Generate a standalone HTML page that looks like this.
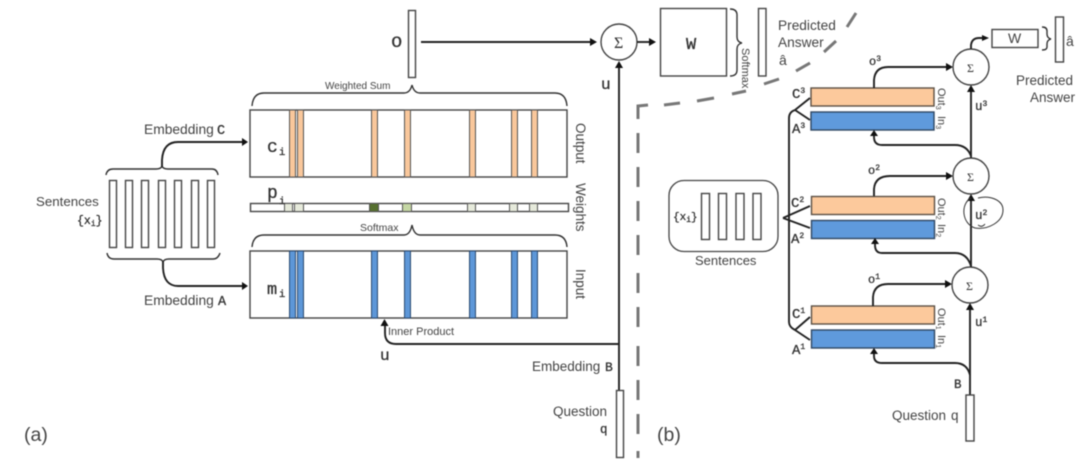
<!DOCTYPE html>
<html><head><meta charset="utf-8"><style>
html,body{margin:0;padding:0;background:#fff;width:1080px;height:470px;overflow:hidden}
svg{display:block;filter:blur(0.5px)}
text{font-family:"Liberation Sans",sans-serif;fill:#444}
.m{font-family:"Liberation Mono",monospace;fill:#333;stroke:#333;stroke-width:.3}
.s{font-family:"Liberation Serif",serif;fill:#333}
.b{fill:#fff;stroke:#444;stroke-width:1.4}
.l{fill:none;stroke:#222;stroke-width:1.9}
.br{fill:none;stroke:#333;stroke-width:1.4}
.o{fill:#f9c79b;stroke:#555;stroke-width:1}
.u{fill:#5d97d8;stroke:#2b4a70;stroke-width:1}
.ob{fill:#fcc99c;stroke:#5b5045;stroke-width:1.4}
.ub{fill:#5f9adc;stroke:#2f4763;stroke-width:1.4}
.ah{fill:#111;stroke:none}
.d{stroke:#777;stroke-width:3;fill:none}
</style></head><body>
<svg width="1080" height="470" viewBox="0 0 1080 470" xmlns="http://www.w3.org/2000/svg">
<!-- sentence bars left -->
<g class="b">
<rect x="109.500" y="180.500" width="7" height="67"/><rect x="125.500" y="180.500" width="7" height="67"/><rect x="141.500" y="180.500" width="7" height="67"/><rect x="158.500" y="180.500" width="7" height="67"/><rect x="174.500" y="180.500" width="7" height="67"/><rect x="191.500" y="180.500" width="7" height="67"/><rect x="207.500" y="180.500" width="7" height="67"/>
</g>
<path class="br" d="M106 175 Q107 169 113 169 L156 169 Q161 169 162 166 Q163 169 168 169 L212 169 Q217 169 218 175"/>
<path class="br" d="M107 253 Q108 259 114 259 L157 259 Q162 259 163 262 Q164 259 169 259 L213 259 Q218 259 220 253"/>
<path class="l" d="M162 167 L162 160 Q163 142 178 142 L244 142"/>
<path class="ah" d="M248 142 L242 138 L242 146Z"/>
<path class="l" d="M163 261 L163 268 Q164 286 178 286 L244 286"/>
<path class="ah" d="M248 286 L242 282 L242 290Z"/>
<text x="144" y="134" font-size="13.800">Embedding</text><text x="217" y="134" class="m" font-size="13.500">C</text>
<text x="144" y="305" font-size="13.800">Embedding</text><text x="218" y="305" class="m" font-size="13.500">A</text>
<text x="36" y="206" font-size="13.300">Sentences</text>
<text x="77" y="224" class="m" font-size="11.500">{x<tspan font-size="8" dy="2">i</tspan><tspan dy="-2">}</tspan></text>
<!-- Output -->
<rect class="b" x="250" y="110" width="317" height="67"/>
<g class="o"><rect x="289.500" y="110" width="6" height="67"/><rect x="297.500" y="110" width="6" height="67"/><rect x="371.500" y="110" width="6" height="67"/><rect x="404.500" y="110" width="6" height="67"/><rect x="469.500" y="110" width="6" height="67"/><rect x="511.500" y="110" width="6" height="67"/><rect x="531.500" y="110" width="6" height="67"/></g>
<text x="267" y="152" class="m" font-size="18">c</text><text x="279" y="155" class="m" font-size="10.500">i</text>
<!-- p -->
<rect class="b" x="250.500" y="203.500" width="318" height="8"/>
<g stroke="#555" stroke-width="1">
<rect x="284.500" y="203.500" width="8" height="8" fill="#e6eadb"/><rect x="294.500" y="203.500" width="9" height="8" fill="#e6eadb"/><rect x="369.500" y="203.500" width="9" height="8" fill="#56702f"/><rect x="402.500" y="203.500" width="9" height="8" fill="#c5d7a4"/><rect x="467.500" y="203.500" width="8" height="8" fill="#e6eadb"/><rect x="509.500" y="203.500" width="8" height="8" fill="#e6eadb"/><rect x="529.500" y="203.500" width="8" height="8" fill="#e6eadb"/>
</g>
<text x="267" y="198" class="m" font-size="18">p</text><text x="279" y="204" class="m" font-size="10.500">i</text>
<!-- Input -->
<rect class="b" x="250" y="251" width="317" height="67"/>
<g class="u"><rect x="289.500" y="251" width="6" height="67"/><rect x="297.500" y="251" width="6" height="67"/><rect x="371.500" y="251" width="6" height="67"/><rect x="404.500" y="251" width="6" height="67"/><rect x="469.500" y="251" width="6" height="67"/><rect x="511.500" y="251" width="6" height="67"/><rect x="531.500" y="251" width="6" height="67"/></g>
<text x="267" y="294" class="m" font-size="17">m</text><text x="279" y="297" class="m" font-size="10.500">i</text>
<!-- braces top -->
<path class="br" d="M252 106 Q253 93 264 93 L404 93 Q410 93 412 85 Q414 93 420 93 L555 93 Q566 93 567 106"/>
<path class="br" d="M252 247 Q253 235 264 235 L404 235 Q410 235 412 225 Q414 235 420 235 L555 235 Q566 235 567 247"/>
<text x="325" y="89" font-size="10">Weighted Sum</text>
<text x="360" y="231" font-size="10.500">Softmax</text>
<text transform="translate(576,123) rotate(90)" font-size="13.500">Output</text>
<text transform="translate(576,183) rotate(90)" font-size="13.500">Weights</text>
<text transform="translate(576,269) rotate(90)" font-size="13.500">Input</text>
<!-- o -->
<rect class="b" x="408.500" y="10.500" width="7" height="67"/>
<text x="391" y="47" class="m" font-size="19">o</text>
<path class="l" d="M421 42 L592 42"/><path class="ah" d="M597 42 L590 38 L590 46Z"/>
<circle class="b" cx="619" cy="42" r="18"/>
<text x="614" y="48" class="s" font-size="16">Σ</text>
<path class="l" d="M637 42 L651 42"/><path class="ah" d="M656 42 L649 38 L649 46Z"/>
<rect class="b" x="660.500" y="8.500" width="66" height="67.500"/>
<text x="686" y="49" class="m" font-size="17">W</text>
<path class="br" d="M730 9 Q737 9 737 15 L737 37 Q737 42 742 43 Q737 44 737 49 L737 70 Q737 76 730 76"/>
<text transform="translate(742,48) rotate(90)" font-size="11">Softmax</text>
<rect class="b" x="758.500" y="8.500" width="7.500" height="67.500"/>
<text x="778" y="30" font-size="13.700">Predicted</text>
<text x="778" y="47" font-size="13.700">Answer</text>
<text x="779" y="65" font-size="14">â</text>
<!-- u line -->
<path class="l" d="M619 66 L619 390"/><path class="ah" d="M619 61 L615 68 L623 68Z"/>
<text x="601" y="89" class="m" font-size="16">u</text>
<path class="l" d="M619 344 L396 344 Q385 344 385 333 L385 323"/><path class="ah" d="M384.500 319 L380.500 326 L388.500 326Z"/>
<text x="388" y="335" font-size="11">Inner Product</text>
<text x="380" y="360" class="m" font-size="16">u</text>
<text x="532" y="371" font-size="13.500">Embedding</text><text x="605" y="371" class="m" font-size="13">B</text>
<rect class="b" x="616.500" y="390.500" width="7" height="67"/>
<text x="553" y="416" font-size="13.500">Question</text>
<text x="600" y="433" class="m" font-size="12.500">q</text>
<text x="24" y="441" font-size="19.500">(a)</text>
<text x="657" y="441" font-size="19.500">(b)</text>
<!-- dashed -->
<g class="d">
<path d="M638 458 L638 451"/><path d="M638 434 L638 414"/><path d="M638 400 L638 380"/><path d="M638 366 L638 346"/><path d="M638 327 L638 307"/><path d="M638 293 L638 273"/><path d="M638 255 L638 235"/><path d="M638 221 L638 201"/><path d="M638 187 L638 167"/><path d="M638 153 L638 133"/>
<path d="M638 119 L638 106 L648 105"/>
<path d="M664 105 L680 103"/><path d="M697 101 L714 98"/><path d="M732 94 L746 91"/><path d="M764 84 L779 79"/><path d="M796 71 L810 63"/><path d="M824 52 L836 41"/><path d="M847 27 L856 13"/>
</g>
<!-- right: sentences -->
<rect x="669" y="180.500" width="109" height="71" rx="15" fill="#fff" stroke="#444" stroke-width="1.300"/>
<g class="b"><rect x="701.500" y="193.500" width="8" height="46"/><rect x="718.500" y="193.500" width="8" height="46"/><rect x="736" y="193.500" width="8" height="46"/><rect x="753" y="193.500" width="8" height="46"/></g>
<text x="673" y="220" class="m" font-size="11">{x<tspan font-size="8" dy="2">i</tspan><tspan dy="-2">}</tspan></text>
<text x="695" y="265" font-size="13">Sentences</text>
<!-- vertical -->
<path class="l" d="M795 110 Q789 112 789 118 L789 322 Q789 327 795 330"/>
<!-- forks -->
<path class="l" d="M795 110 L810 98 M795 110 L810 120 M783 218 L810 206 M783 218 L810 228 M795 330 L810 317 M795 330 L810 340"/>
<!-- rows -->
<rect class="ob" x="811" y="88" width="123" height="18"/><rect class="ub" x="811" y="112" width="123" height="18"/>
<rect class="ob" x="811.500" y="196.500" width="123" height="18"/><rect class="ub" x="811.500" y="220.500" width="123" height="18"/>
<rect class="ob" x="811.500" y="306" width="123" height="18"/><rect class="ub" x="811.500" y="330" width="123" height="18"/>
<g>
<text x="792" y="98" class="m" font-size="14">C<tspan font-size="8" dy="-5">3</tspan></text>
<text x="792" y="133" class="m" font-size="14">A<tspan font-size="8" dy="-5">3</tspan></text>
<text x="791" y="207" class="m" font-size="14">C<tspan font-size="8" dy="-5">2</tspan></text>
<text x="791" y="243" class="m" font-size="14">A<tspan font-size="8" dy="-5">2</tspan></text>
<text x="792" y="318" class="m" font-size="14">C<tspan font-size="8" dy="-5">1</tspan></text>
<text x="792" y="354" class="m" font-size="14">A<tspan font-size="8" dy="-5">1</tspan></text>
</g>
<g font-size="11">
<text transform="translate(938,88) rotate(90)">Out<tspan font-size="7" dy="2">3</tspan></text>
<text transform="translate(938,116) rotate(90)">In<tspan font-size="7" dy="2">3</tspan></text>
<text transform="translate(938,198) rotate(90)">Out<tspan font-size="7" dy="2">2</tspan></text>
<text transform="translate(938,224) rotate(90)">In<tspan font-size="7" dy="2">2</tspan></text>
<text transform="translate(938,308) rotate(90)">Out<tspan font-size="7" dy="2">1</tspan></text>
<text transform="translate(938,335) rotate(90)">In<tspan font-size="7" dy="2">1</tspan></text>
</g>
<!-- o connectors -->
<path class="l" d="M874 88 L874 80 Q875 67 888 67 L948 67"/><path class="ah" d="M953 67 L946 63 L946 71Z"/>
<path class="l" d="M874 196 L874 189 Q875 176 890 176 L948 176"/><path class="ah" d="M953 176 L946 172 L946 180Z"/>
<path class="l" d="M873 306 L873 297 Q874 284 888 284 L947 284"/><path class="ah" d="M952 284 L945 280 L945 288Z"/>
<text x="869" y="65" class="m" font-size="12">o<tspan font-size="8" dy="-4">3</tspan></text>
<text x="868" y="174" class="m" font-size="12">o<tspan font-size="8" dy="-4">2</tspan></text>
<text x="868" y="283" class="m" font-size="12">o<tspan font-size="8" dy="-4">1</tspan></text>
<!-- sigmas -->
<circle class="b" cx="971" cy="67" r="18"/><circle class="b" cx="971" cy="176" r="18"/><circle class="b" cx="970" cy="285" r="18"/>
<text x="967" y="72" class="s" font-size="12">Σ</text><text x="967" y="181" class="s" font-size="12">Σ</text><text x="966" y="290" class="s" font-size="12">Σ</text>
<!-- vertical u -->
<path class="l" d="M971 90 L971 158"/><path class="ah" d="M971 85 L967 92 L975 92Z"/>
<path class="l" d="M971 199 L971 267"/><path class="ah" d="M971 194 L967 201 L975 201Z"/>
<path class="l" d="M970 308 L970 395"/><path class="ah" d="M970 303 L966 310 L974 310Z"/>
<!-- into In -->
<path class="l" d="M971 156 Q967 145 955 145 L882 145 Q874 145 874 137 L874 135"/><path class="ah" d="M874 130 L870 136 L878 136Z"/>
<path class="l" d="M971 266 Q967 253 955 253 L882 253 Q875 253 875 245 L875 243"/><path class="ah" d="M875 238 L871 244 L879 244Z"/>
<path class="l" d="M970 375 Q967 363 955 363 L882 363 Q874 363 874 356 L874 353"/><path class="ah" d="M874 348 L870 354 L878 354Z"/>
<text x="975" y="110" class="m" font-size="12.500">u<tspan font-size="8" dy="-4">3</tspan></text>
<text x="975" y="219" class="m" font-size="12.500">u<tspan font-size="8" dy="-4">2</tspan></text>
<text x="975" y="326" class="m" font-size="12.500">u<tspan font-size="8" dy="-4">1</tspan></text>
<path d="M971 198 C960 204 962 224 975 228 C988 230 1003 222 1003 210 C1003 200 990 195 978 198" fill="none" stroke="#333" stroke-width="1"/>
<path d="M978 225 Q982 228 985 224" fill="none" stroke="#333" stroke-width="1"/>
<text x="954" y="388" class="m" font-size="12.500">B</text>
<rect class="b" x="966" y="395" width="8" height="46"/>
<text x="892" y="420" font-size="13.500">Question</text><text x="951" y="420" font-size="13.500">q</text>
<!-- top right -->
<path class="l" d="M971 49 L971 45 Q972 38 979 38 L984 38"/><path class="ah" d="M989 38 L982 35 L982 41Z"/>
<rect class="b" x="992" y="29.500" width="46" height="18"/>
<text x="1008" y="43" font-size="14">W</text>
<path class="br" d="M1042 27 Q1047 27 1047 31 L1047 34 Q1047 38 1051 39 Q1047 40 1047 44 L1047 47 Q1047 50 1042 50"/>
<rect class="b" x="1055.500" y="17" width="8" height="45"/>
<text x="1066" y="46" font-size="14">â</text>
<text x="1016" y="85" font-size="13.500">Predicted</text>
<text x="1030" y="102" font-size="13.500">Answer</text>
</svg>
</body></html>
